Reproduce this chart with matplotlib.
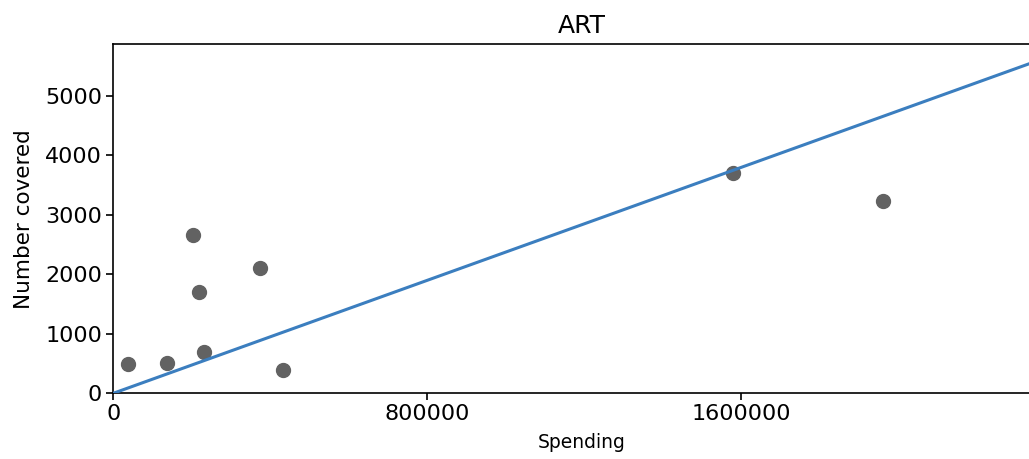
import matplotlib
matplotlib.use('Agg')
import matplotlib.pyplot as plt
import numpy as np

# spending vs. people covered
spending = [38500, 137900, 204100, 217900, 230600, 373300, 433400, 1578500, 1962200]
covered = [488, 505, 2662, 1709, 690, 2102, 392, 3710, 3234]
slope = 0.002375  # covered per unit of spending
x_max = 2386900
y_max = 5875

fig = plt.figure(figsize=(10.29, 4.59), dpi=100)
# axes run a little past the right edge of the canvas
ax = fig.add_axes([0.110, 0.1431, 0.9104, 0.7610])

ax.scatter(spending, covered, s=100, color='#626262', zorder=2)
xs = np.array([0, x_max])
ax.plot(xs, slope * xs, color='#3b7ebf', lw=2.2, zorder=3)

ax.set_xlim(0, x_max)
ax.set_ylim(0, y_max)
ax.set_xticks([0, 800000, 1600000])
ax.set_xticklabels(['0', '800000', '1600000'])
ax.set_yticks([0, 1000, 2000, 3000, 4000, 5000])
ax.tick_params(labelsize=16, width=1.2, length=5, pad=3)
ax.spines['right'].set_visible(False)
for s in ['left', 'bottom', 'top']:
    ax.spines[s].set_linewidth(1.2)

ax.set_title('ART', fontsize=18, pad=8)
ax.set_xlabel('Spending', fontsize=13.5, labelpad=6)
ax.set_ylabel('Number covered', fontsize=15.5, labelpad=8)

fig.savefig('out.png', dpi=100)
